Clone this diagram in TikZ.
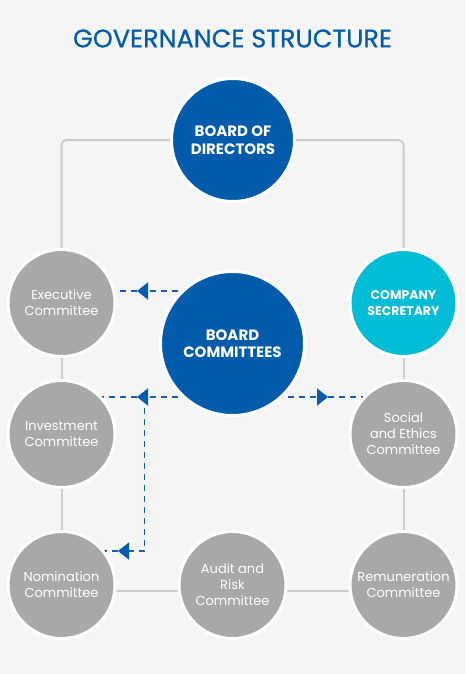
\documentclass[tikz,border=0pt]{standalone}
\usepackage{fontspec}
\setmainfont{Poppins}
\newfontfamily\titlefont[FakeBold=0.6]{Poppins}
\usetikzlibrary{arrows.meta,backgrounds}
\definecolor{dblue}{HTML}{005BAA}
\definecolor{ccyan}{HTML}{00BCD4}
\definecolor{cgray}{HTML}{A8A8A8}
\definecolor{lgray}{HTML}{CDCDCD}
\definecolor{bgc}{HTML}{F5F5F5}
\definecolor{dashblue}{HTML}{1A5EAF}
\begin{document}
\begin{tikzpicture}[x=1pt,y=1pt,
  circ/.style={circle,draw=white,line width=3pt,inner sep=0pt,align=center,text=white},
  graycirc/.style={circ,fill=cgray,minimum size=107pt,font=\fontsize{13}{16}\selectfont},
  conn/.style={draw=lgray,line width=2pt},
  dashline/.style={draw=dashblue,line width=1.3pt,dash pattern=on 6pt off 5pt},
  tipL/.style={-{Triangle[length=11pt,width=17pt,color=dblue]}}]
\useasboundingbox (0,0) rectangle (466,-674);
\node[font=\titlefont\fontsize{25.5}{30}\selectfont,text=dblue] (title) at (232.5,-38.5) {GOVERNANCE STRUCTURE};
\node[circ,fill=dblue,minimum size=123pt,font=\bfseries\fontsize{15}{17.5}\selectfont] (bod) at (233,-140) {BOARD OF\\DIRECTORS};
\node[circ,fill=dblue,minimum size=144pt,font=\bfseries\fontsize{15}{17.5}\selectfont] (bc) at (232.5,-343.5) {BOARD\\COMMITTEES};
\node[circ,fill=ccyan,minimum size=107pt,font=\bfseries\fontsize{12.5}{16}\selectfont] (sec) at (403.5,-303) {COMPANY\\SECRETARY};
\node[graycirc] (exec) at (61.5,-303) {Executive\\Committee};
\node[graycirc] (inv) at (61.5,-434) {Investment\\Committee};
\node[graycirc] (soc) at (403.5,-434) {Social\\and Ethics\\Committee};
\node[graycirc] (nom) at (61.5,-585) {Nomination\\Committee};
\node[graycirc] (aud) at (232.5,-585) {Audit and\\Risk\\Committee};
\node[graycirc] (rem) at (403.5,-585) {Remuneration\\Committee};
\coordinate (t1) at (137,-291);
\coordinate (t2) at (137,-397);
\coordinate (t3) at (328,-397);
\coordinate (br) at (144.5,-397);
\coordinate (bend) at (144.5,-551);
\coordinate (t4) at (118,-551);
\begin{scope}[on background layer]
\fill[bgc] (0,0) rectangle (466,-674);
\draw[conn,rounded corners=5pt] (bod.west) -| (exec.north);
\draw[conn,rounded corners=5pt] (bod.east) -| (sec.north);
\draw[conn] (exec.center) -- (inv.center);
\draw[conn] (inv.center) -- (nom.center);
\draw[conn] (sec.center) -- (soc.center);
\draw[conn] (soc.center) -- (rem.center);
\draw[conn] ([yshift=-5.5pt]nom.center) -- ([yshift=-5.5pt]aud.center);
\draw[conn] ([yshift=-5.5pt]aud.center) -- ([yshift=-5.5pt]rem.center);
\draw[dashline,tipL] (bc.center |- t1) -- (t1);
\draw[dashline] (t1) -- (exec.center |- t1);
\draw[dashline,tipL] (bc.center |- t2) -- (t2);
\draw[dashline] (t2) -- (inv.center |- t2);
\draw[dashline,tipL] (bc.center |- t3) -- (t3);
\draw[dashline] (t3) -- (soc.center |- t3);
\draw[dashline,tipL] (br) -- (bend) -- (t4);
\draw[dashline] (t4) -- (nom.center |- t4);
\end{scope}
\end{tikzpicture}
\end{document}
